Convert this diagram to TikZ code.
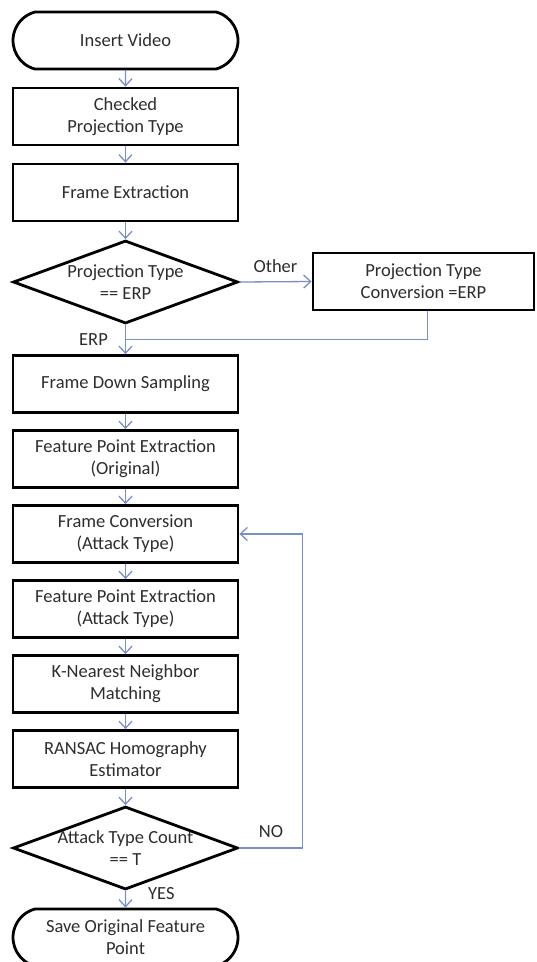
\documentclass[tikz,border=0pt]{standalone}
\usepackage{fontspec}
\setmainfont{Carlito}
\usetikzlibrary{arrows.meta,calc,shapes.geometric,shapes.misc}
\definecolor{FlowBlue}{RGB}{122,142,202}
\definecolor{FlowText}{RGB}{45,45,45}

\begin{document}
\begin{tikzpicture}[x=1pt, y=1pt, font=\fontsize{18.5}{22}\selectfont, text=FlowText,
  box/.style={draw=black, line width=2.8pt, minimum width=225pt, minimum height=57pt, align=center, inner sep=0pt},
  term/.style={box, rounded rectangle, rounded rectangle arc length=150},
  decision/.style={draw=black, line width=2.8pt, diamond, inner sep=0pt, minimum width=225pt, minimum height=83pt},
  dtext/.style={align=center, inner sep=0pt},
  flow/.style={FlowBlue, line width=1.3pt, -{Straight Barb[length=7pt,width=13pt]}},
  tag/.style={inner sep=0pt, text=FlowText}]
  \useasboundingbox (0,0) rectangle (536,-962);

  % Main column
  \node[term] (start) at (125.5,-40.5) {Insert Video};
  \node[box] (check) at (125.5,-116.5) {Checked\\Projection Type};
  \node[box] (extract) at (125.5,-192.5) {Frame Extraction};
  \node[decision] (isERP) at (125.5,-282) {};
  \node[dtext] (isERPtxt) at (isERP) {Projection Type\\== ERP};
  \node[box] (down) at (125.5,-384) {Frame Down Sampling};
  \node[box] (featOrig) at (125.5,-459) {Feature Point Extraction\\(Original)};
  \node[box] (frameConv) at (125.5,-534) {Frame Conversion\\(Attack Type)};
  \node[box] (featAtk) at (125.5,-609) {Feature Point Extraction\\(Attack Type)};
  \node[box] (knn) at (125.5,-684) {K-Nearest Neighbor\\Matching};
  \node[box] (ransac) at (125.5,-759) {RANSAC Homography\\Estimator};
  \node[decision] (count) at (125.5,-848) {};
  \node[dtext] (counttxt) at (count) {Attack Type Count\\== T};
  \node[term] (save) at (125.5,-937.5) {Save Original Feature\\Point};

  % Side branch
  \node[box, minimum width=221pt] (convert) at (423.5,-281.5) {Projection Type\\Conversion =ERP};

  % Arrows down the column
  \draw[flow] (start) -- (check);
  \draw[flow] (check) -- (extract);
  \draw[flow] (extract) -- (isERP);
  \draw[flow] (isERP.east) -- node[tag, above=8pt] {Other} (convert.west);
  \draw[flow] (isERP.south) -- node[tag, left=17pt] {ERP} (down.north);
  \draw[flow] (down) -- (featOrig);
  \draw[flow] (featOrig) -- (frameConv);
  \draw[flow] (frameConv) -- (featAtk);
  \draw[flow] (featAtk) -- (knn);
  \draw[flow] (knn) -- (ransac);
  \draw[flow] (ransac) -- (count.north);
  \draw[flow] (count.south) -- node[tag, right=22pt, yshift=6pt] {YES} (save);

  % Converted branch joins the main line
  \coordinate (merge) at ($(isERP.south)!0.5!(down.north)$);
  \draw[FlowBlue, line width=1.3pt] ([xshift=4pt]convert.south) |- (merge);

  % Loop back for the next attack type
  \draw[flow] (count.east) -- node[tag, above=10pt] {NO} ++(63,0) |- (frameConv.east);
\end{tikzpicture}
\end{document}
